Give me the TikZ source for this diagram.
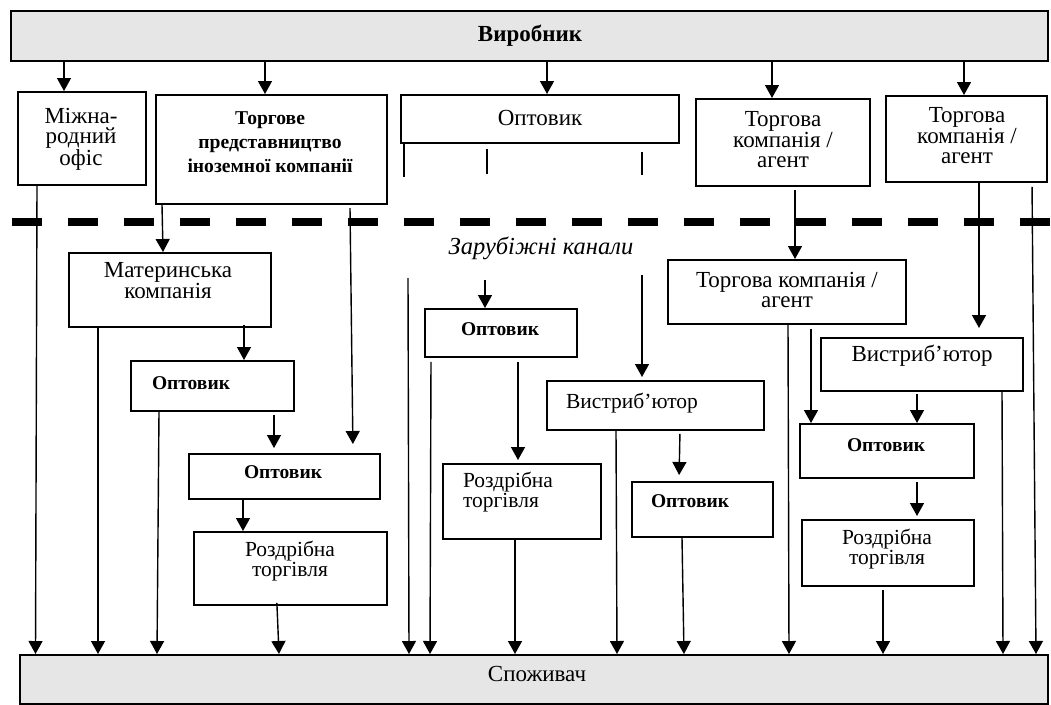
\documentclass[tikz,border=0pt]{standalone}
\usepackage{fontspec}
\setmainfont{Liberation Serif}
\usetikzlibrary{arrows.meta}
\definecolor{boxgray}{HTML}{E6E6E6}
\begin{document}
\begin{tikzpicture}[x=1pt,y=-1pt,
  box/.style={draw, line width=1.8pt, inner sep=0pt, anchor=north west},
  gbox/.style={box, fill=boxgray},
  arr/.style={line width=1.4pt, -{Triangle[width=14pt,length=13pt]}},
  ln/.style={line width=1.4pt},
  txt/.style={align=center, inner sep=0pt},
  fmain/.style={font=\fontsize{23}{20}\selectfont},
  fsmall/.style={font=\fontsize{21.5}{18}\selectfont},
  fsbold/.style={font=\fontsize{19.5}{18}\selectfont\bfseries},
  ftorg/.style={font=\fontsize{19.6}{24}\selectfont\bfseries},
]
\useasboundingbox (0,0) rectangle (1051,704);
\fill[white] (0,0) rectangle (1051,704);

% boxes
\node[gbox, minimum width=1037pt, minimum height=50pt] (vyr) at (10,10) {};
\node[box, minimum width=128pt, minimum height=93pt] (mizh) at (17,91) {};
\node[box, minimum width=231pt, minimum height=109pt] (torg) at (155,94) {};
\node[box, minimum width=278pt, minimum height=48pt] (opt0) at (400,94) {};
\node[box, minimum width=174pt, minimum height=87pt] (tk1) at (695,98) {};
\node[box, minimum width=161pt, minimum height=86pt] (tk2) at (885,95) {};
\node[box, minimum width=202pt, minimum height=74pt] (mat) at (68,252) {};
\node[box, minimum width=163pt, minimum height=50pt] (opt1) at (130,360) {};
\node[box, minimum width=191pt, minimum height=45pt] (opt2) at (188,453) {};
\node[box, minimum width=193pt, minimum height=73pt] (rozd1) at (193,531) {};
\node[box, minimum width=152pt, minimum height=48pt] (opt3) at (424,308) {};
\node[box, minimum width=158pt, minimum height=75pt] (rozd2) at (442,463) {};
\node[box, minimum width=217pt, minimum height=49pt] (vys1) at (546,380) {};
\node[box, minimum width=141pt, minimum height=55pt] (opt4) at (631,481) {};
\node[box, minimum width=238pt, minimum height=64pt] (tk3) at (667,259) {};
\node[box, minimum width=202pt, minimum height=53pt] (vys2) at (820,337) {};
\node[box, minimum width=174pt, minimum height=54pt] (opt5) at (799,423) {};
\node[box, minimum width=172pt, minimum height=66pt] (rozd3) at (801,519) {};
\node[gbox, minimum width=1028pt, minimum height=49pt] (spoz) at (19,654) {};

% texts
\node[txt, font=\fontsize{23}{20}\selectfont\bfseries] (vyr-t) at (530,36) {Виробник};
\node[txt, fmain] (mizh-t) at (81,139) {Міжна-\\родний\\офіс};
\node[txt, ftorg] (torg-t) at (270,142) {Торгове\\представництво\\іноземної компанії};
\node[txt, fmain] (opt0-t) at (540,118) {Оптовик};
\node[txt, fmain] (tk1-t) at (783,140) {Торгова\\компанія /\\агент};
\node[txt, fmain] (tk2-t) at (967,136) {Торгова\\компанія /\\агент};
\node[txt, font=\fontsize{24.5}{20}\selectfont\itshape] (zar-t) at (541,248) {Зарубіжні канали};
\node[txt, fmain] (mat-t) at (168,281) {Материнська\\компанія};
\node[txt, fsbold] (opt1-t) at (191,383) {Оптовик};
\node[txt, fsbold] (opt2-t) at (283,472) {Оптовик};
\node[txt, fsmall] (rozd1-t) at (290,561) {Роздрібна\\торгівля};
\node[txt, fsbold] (opt3-t) at (500,329) {Оптовик};
\node[txt, fsmall, align=left] (rozd2-t) at (508,492) {Роздрібна\\торгівля};
\node[txt, fsmall] (vys1-t) at (632,403) {Вистриб’ютор};
\node[txt, fsbold] (opt4-t) at (690,501) {Оптовик};
\node[txt, fmain] (tk3-t) at (787,290) {Торгова компанія /\\агент};
\node[txt, fmain] (vys2-t) at (922,356) {Вистриб’ютор};
\node[txt, fsbold] (opt5-t) at (886,445) {Оптовик};
\node[txt, fsmall] (rozd3-t) at (887,549) {Роздрібна\\торгівля};
\node[txt, fmain] (spoz-t) at (537,674) {Споживач};

% dashed border line
\draw[line width=8pt, dash pattern=on 30pt off 26pt] (12,222) -- (1051,222);

% from producer
\draw[arr] (vyr.south -| 64,0) -- (mizh.north -| 64,0);
\draw[arr] (vyr.south -| 265,0) -- (torg.north -| 265,0);
\draw[arr] (vyr.south -| 547,0) -- (opt0.north -| 547,0);
\draw[arr] (vyr.south -| 772,0) -- (tk1.north -| 772,0);
\draw[arr] (vyr.south -| 964,0) -- (tk2.north -| 964,0);

% ticks under wholesaler
\draw[ln] (opt0.south -| 404,0) -- ++(0,33);
\draw[ln, shorten <=5pt] (opt0.south -| 487,0) -- ++(0,30);
\draw[ln, shorten <=8pt] (opt0.south -| 642,0) -- ++(0,31);

% left part
\draw[arr] (mizh.south -| 37,0) -- (spoz.north -| 35.5,0);
\draw[arr] (torg.south -| 162,0) -- (mat.north -| 163,0);
\coordinate (c1) at (350,208);
\draw[arr, shorten >=9pt] (c1) -- (opt2.north -| 353,0);
\draw[arr] (mat.south -| 98,0) -- (spoz.north -| 98,0);
\draw[arr, shorten <=-3pt] (mat.south -| 244,0) -- (opt1.north -| 244,0);
\draw[arr] (opt1.south -| 159,0) -- (spoz.north -| 157,0);
\draw[arr, shorten <=3pt, shorten >=5pt] (opt1.south -| 274,0) -- (opt2.north -| 274,0);
\draw[arr] (opt2.south -| 243,0) -- (rozd1.north -| 243,0);
\draw[arr, shorten <=-3pt] (rozd1.south -| 277,0) -- (spoz.north -| 279,0);

% middle part
\coordinate (c2) at (408,278);
\draw[arr] (c2) -- (spoz.north -| 409,0);
\coordinate (c3) at (485,280);
\draw[arr] (c3) -- (opt3.north -| 485,0);
\draw[arr, shorten <=4pt] (opt3.south -| 431,0) -- (spoz.north -| 430,0);
\draw[arr, shorten <=4pt, shorten >=3pt] (opt3.south -| 518,0) -- (rozd2.north -| 518,0);
\draw[arr] (rozd2.south -| 515,0) -- (spoz.north -| 515,0);
\coordinate (c4) at (642,275);
\draw[arr, shorten >=3pt] (c4) -- (vys1.north -| 642,0);
\draw[arr] (vys1.south -| 616,0) -- (spoz.north -| 617,0);
\draw[arr, shorten <=3pt, shorten >=6pt] (vys1.south -| 680,0) -- (opt4.north -| 679,0);
\draw[arr] (opt4.south -| 682,0) -- (spoz.north -| 684,0);

% right part
\draw[arr, shorten <=3pt] (tk1.south -| 795,0) -- (tk3.north -| 795,0);
\draw[arr] (tk3.south -| 788,0) -- (spoz.north -| 789,0);
\draw[arr, shorten <=4pt] (tk3.south -| 811,0) -- (opt5.north -| 811,0);
\draw[arr, shorten >=9pt] (tk2.south -| 979,0) -- (vys2.north -| 979,0);
\draw[arr, shorten <=4pt] (tk2.south -| 1032,0) -- (spoz.north -| 1036,0);
\draw[arr] (vys2.south -| 1002,0) -- (spoz.north -| 1003,0);
\draw[arr, shorten <=2pt] (vys2.south -| 917,0) -- (opt5.north -| 917,0);
\draw[arr, shorten <=3pt, shorten >=3pt] (opt5.south -| 917,0) -- (rozd3.north -| 917,0);
\draw[arr, shorten <=3pt] (rozd3.south -| 883,0) -- (spoz.north -| 883,0);
\end{tikzpicture}
\end{document}
